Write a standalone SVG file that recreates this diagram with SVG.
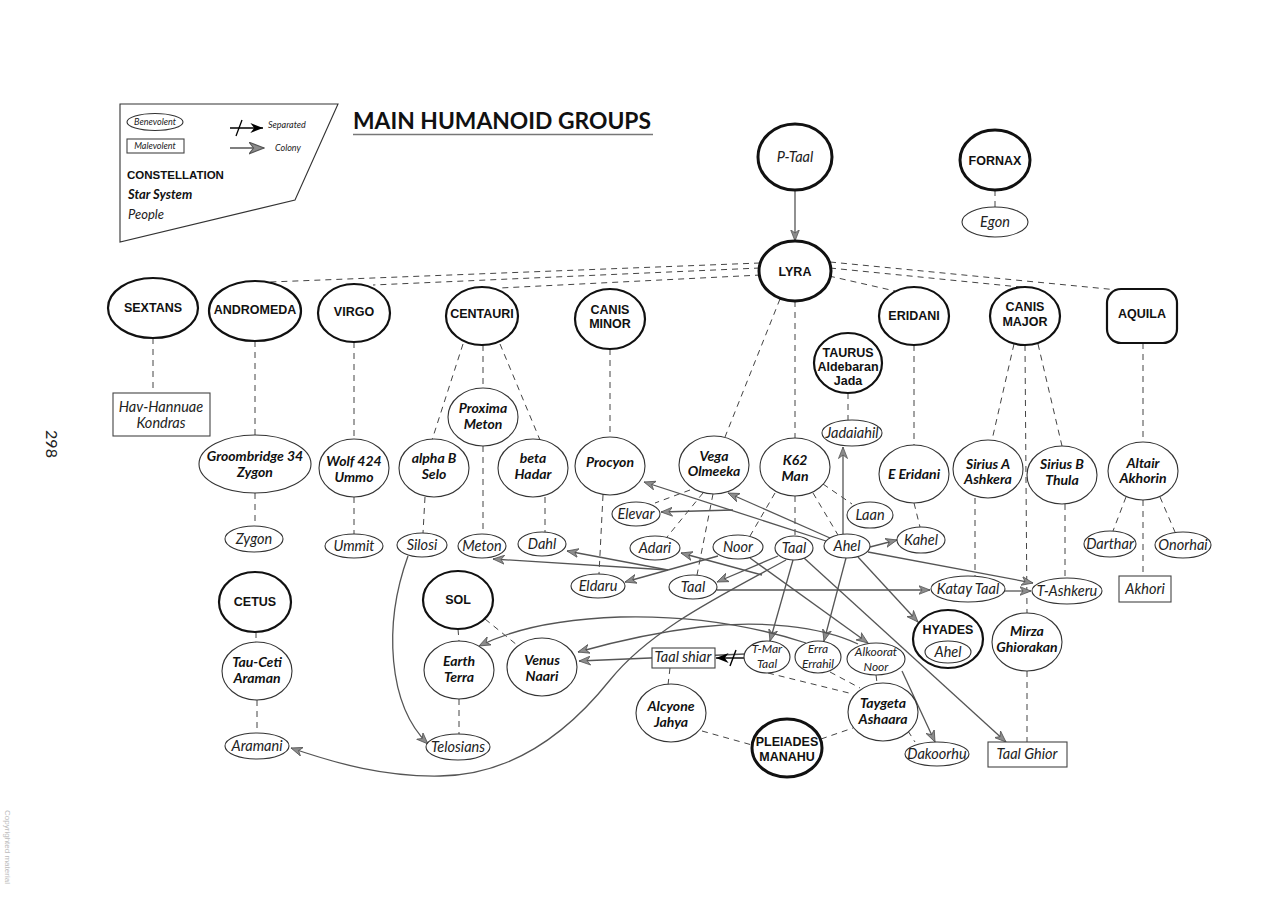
<svg xmlns="http://www.w3.org/2000/svg" width="1280" height="899" viewBox="0 0 1280 899">
<defs>
<style>
.bg{fill:#fff}
.c{fill:#fff;stroke:#111;stroke-width:2.2}
.ct{fill:#fff;stroke:#111;stroke-width:3}
.s{fill:#fff;stroke:#333;stroke-width:1.1}
.pn{fill:none;stroke:#333;stroke-width:1.1}
.r{fill:#fff;stroke:#444;stroke-width:1.1}
.d{fill:none;stroke:#444;stroke-width:1;stroke-dasharray:6 5}
.a{fill:none;stroke:#555;stroke-width:1.3;marker-end:url(#col)}
.tc{font-family:"Liberation Sans",Arial,sans-serif;font-weight:bold;font-size:12.5px;text-anchor:middle;fill:#111}
.ts{font-family:Lato,"Liberation Sans",sans-serif;font-weight:bold;font-style:italic;font-size:14px;text-anchor:middle;fill:#111}
.tp{font-family:Lato,"Liberation Sans",sans-serif;font-style:italic;font-size:14.5px;text-anchor:middle;fill:#222}
.tsm{font-family:Lato,"Liberation Sans",sans-serif;font-style:italic;font-size:12px;text-anchor:middle;fill:#222}
</style>
<marker id="col" viewBox="0 0 12 10" refX="11.5" refY="5" markerWidth="12" markerHeight="10" markerUnits="userSpaceOnUse" orient="auto">
<path d="M0,0.5 L11.5,5 L0,9.5 L3.5,5 z" fill="#8c8c8c" stroke="#555" stroke-width="0.8"/>
</marker>
<marker id="colL" viewBox="0 0 12 10" refX="11.5" refY="5" markerWidth="16" markerHeight="13" markerUnits="userSpaceOnUse" orient="auto">
<path d="M0,0.5 L11.5,5 L0,9.5 L3.5,5 z" fill="#8c8c8c" stroke="#555" stroke-width="0.8"/>
</marker>
<marker id="sep" viewBox="0 0 12 10" refX="11.5" refY="5" markerWidth="14" markerHeight="11" markerUnits="userSpaceOnUse" orient="auto">
<path d="M0,0.5 L11.5,5 L0,9.5 L3.5,5 z" fill="#000"/>
</marker>
</defs>
<rect class="bg" x="0" y="0" width="1280" height="899"/>

<g id="page">
<text x="46" y="444" transform="rotate(90 46 444)" font-family="Lato,'Liberation Sans',sans-serif" font-size="16" fill="#222" text-anchor="middle">298</text>
<text x="5" y="847" transform="rotate(90 5 847)" font-family="'Liberation Sans',sans-serif" font-size="8" fill="#bbb" text-anchor="middle">Copyrighted material</text>
</g>

<g id="legend">
<polygon points="120,104 338,104 295,200 120,242" fill="none" stroke="#333" stroke-width="1.1"/>
<ellipse cx="155" cy="122" rx="28" ry="8.5" class="pn"/>
<text x="155" y="125" font-family="Lato,'Liberation Sans',sans-serif" font-style="italic" font-size="9" fill="#222" text-anchor="middle">Benevolent</text>
<rect x="127" y="139" width="57" height="14" class="r"/>
<text x="155" y="149" font-family="Lato,'Liberation Sans',sans-serif" font-style="italic" font-size="9" fill="#222" text-anchor="middle">Malevolent</text>
<line x1="230" y1="128" x2="263" y2="128" stroke="#000" stroke-width="1.3" marker-end="url(#sep)"/>
<line x1="236" y1="136" x2="242" y2="120" stroke="#000" stroke-width="1.3"/>
<text x="268" y="128" font-family="Lato,'Liberation Sans',sans-serif" font-style="italic" font-size="9" fill="#222">Separated</text>
<line x1="230" y1="148" x2="264" y2="148" stroke="#555" stroke-width="1.3" marker-end="url(#colL)"/>
<text x="275" y="151" font-family="Lato,'Liberation Sans',sans-serif" font-style="italic" font-size="9" fill="#222">Colony</text>
<text x="127" y="179" font-family="'Liberation Sans',Arial,sans-serif" font-weight="bold" font-size="11.5" fill="#111">CONSTELLATION</text>
<text x="128" y="199" font-family="Lato,'Liberation Sans',sans-serif" font-weight="bold" font-style="italic" font-size="13" fill="#111">Star System</text>
<text x="128" y="219" font-family="Lato,'Liberation Sans',sans-serif" font-style="italic" font-size="13" fill="#222">People</text>
</g>

<g id="title">
<text x="353" y="129" font-family="Lato,'Liberation Sans',sans-serif" font-weight="bold" font-size="22" fill="#111" textLength="298" lengthAdjust="spacingAndGlyphs">MAIN HUMANOID GROUPS</text>
<line x1="353" y1="134.5" x2="653" y2="134.5" stroke="#777" stroke-width="1.3"/>
</g>

<g id="connectors">
<line class="d" x1="760" y1="263" x2="270" y2="282"/>
<line class="d" x1="760" y1="268" x2="373" y2="285"/>
<line class="d" x1="761" y1="275" x2="500" y2="288"/>
<line class="d" x1="830" y1="262" x2="1118" y2="290"/>
<line class="d" x1="830" y1="268" x2="1030" y2="288"/>
<line class="d" x1="829" y1="276" x2="895" y2="291"/>
<line class="d" x1="780" y1="299" x2="725" y2="437"/>
<line class="d" x1="795" y1="301" x2="795" y2="438"/>
<line class="d" x1="995" y1="190" x2="995" y2="207"/>
<line class="d" x1="848" y1="393" x2="848" y2="420"/>
<line class="d" x1="153" y1="338" x2="153" y2="393"/>
<line class="d" x1="255" y1="341" x2="255" y2="435"/>
<line class="d" x1="255" y1="493" x2="255" y2="526"/>
<line class="d" x1="354" y1="342" x2="354" y2="439"/>
<line class="d" x1="354" y1="497" x2="354" y2="534"/>
<line class="d" x1="425" y1="497" x2="423" y2="533"/>
<line class="d" x1="463" y1="344" x2="432" y2="440"/>
<line class="d" x1="483" y1="345" x2="483" y2="388"/>
<line class="d" x1="500" y1="344" x2="540" y2="440"/>
<line class="d" x1="483" y1="446" x2="483" y2="534"/>
<line class="d" x1="545" y1="497" x2="545" y2="532"/>
<line class="d" x1="610" y1="349" x2="610" y2="437"/>
<line class="d" x1="603" y1="495" x2="599" y2="574"/>
<line class="d" x1="690" y1="490" x2="655" y2="503"/>
<line class="d" x1="703" y1="493" x2="667" y2="537"/>
<line class="d" x1="713" y1="494" x2="697" y2="575"/>
<line class="d" x1="775" y1="493" x2="750" y2="536"/>
<line class="d" x1="795" y1="496" x2="795" y2="536"/>
<line class="d" x1="813" y1="493" x2="838" y2="535"/>
<line class="d" x1="823" y1="484" x2="852" y2="504"/>
<line class="d" x1="914" y1="345" x2="914" y2="445"/>
<line class="d" x1="914" y1="503" x2="920" y2="527"/>
<line class="d" x1="1014" y1="344" x2="992" y2="440"/>
<line class="d" x1="1025" y1="345" x2="1027" y2="613"/>
<line class="d" x1="1038" y1="344" x2="1062" y2="446"/>
<line class="d" x1="975" y1="498" x2="975" y2="576"/>
<line class="d" x1="1065" y1="504" x2="1065" y2="578"/>
<line class="d" x1="1027" y1="671" x2="1027" y2="742"/>
<line class="d" x1="1143" y1="343" x2="1143" y2="442"/>
<line class="d" x1="1126" y1="497" x2="1113" y2="531"/>
<line class="d" x1="1160" y1="497" x2="1175" y2="532"/>
<line class="d" x1="1143" y1="500" x2="1143" y2="576"/>
<line class="d" x1="256" y1="632" x2="256" y2="642"/>
<line class="d" x1="257" y1="700" x2="257" y2="733"/>
<line class="d" x1="458" y1="629" x2="459" y2="641"/>
<line class="d" x1="485" y1="619" x2="517" y2="645"/>
<line class="d" x1="459" y1="699" x2="459" y2="734"/>
<line class="d" x1="670" y1="668" x2="668" y2="685"/>
<line class="d" x1="768" y1="673" x2="853" y2="694"/>
<line class="d" x1="830" y1="672" x2="860" y2="688"/>
<line class="d" x1="876" y1="675" x2="877" y2="683"/>
<line class="d" x1="908" y1="731" x2="915" y2="742"/>
<line class="d" x1="702" y1="731" x2="752" y2="745"/>
<line class="d" x1="821" y1="739" x2="853" y2="728"/>
<line class="a" x1="795" y1="190" x2="795" y2="241"/>
<line class="a" x1="843" y1="534" x2="843" y2="447"/>
<line class="a" x1="826" y1="541" x2="644" y2="482"/>
<line class="a" x1="830" y1="538" x2="728" y2="493"/>
<line class="a" x1="733" y1="510" x2="661" y2="512"/>
<line class="a" x1="870" y1="547" x2="897" y2="540"/>
<line class="a" x1="868" y1="552" x2="1033" y2="583"/>
<line class="a" x1="858" y1="557" x2="918" y2="622"/>
<line class="a" x1="846" y1="558" x2="824" y2="641"/>
<line class="a" x1="778" y1="556" x2="717" y2="582"/>
<line class="a" x1="793" y1="560" x2="770" y2="641"/>
<line class="a" x1="804" y1="558" x2="1006" y2="742"/>
<path class="a" d="M786,560 C720,596 650,630 610,680 C570,730 515,775 440,776 C385,777 338,764 291,748"/>
<line class="a" x1="718" y1="556" x2="625" y2="582"/>
<line class="a" x1="750" y1="558" x2="868" y2="643"/>
<line class="a" x1="762" y1="575" x2="681" y2="553"/>
<line class="a" x1="668" y1="570" x2="493" y2="559"/>
<line class="a" x1="668" y1="570" x2="567" y2="551"/>
<line class="a" x1="717" y1="590" x2="930" y2="590"/>
<line class="a" x1="1005" y1="591" x2="1031" y2="591"/>
<line class="a" x1="902" y1="671" x2="935" y2="742"/>
<path class="a" d="M408,556 C383,625 388,705 428,744"/>
<path class="a" d="M806,643 C760,628 700,615 620,617 C560,619 515,628 479,646"/>
<path class="a" d="M858,644 C820,626 760,620 700,627 C650,633 610,643 578,652"/>
<line class="a" x1="745" y1="654" x2="579" y2="661"/>
<line x1="744" y1="658" x2="716" y2="658" stroke="#000" stroke-width="1.4" marker-end="url(#sep)"/>
<line x1="730" y1="666" x2="736" y2="650" stroke="#000" stroke-width="1.4"/>
</g>

<g id="n-ptaal"><ellipse cx="795" cy="157" rx="37" ry="33" class="ct"/><text x="795" y="162" class="tp">P-Taal</text></g>
<g id="n-fornax"><ellipse cx="995" cy="160" rx="35" ry="30" class="ct"/><text x="995" y="165" class="tc">FORNAX</text></g>
<g id="n-egon"><ellipse cx="995" cy="222" rx="33" ry="15" class="s"/><text x="995" y="227" class="tp">Egon</text></g>
<g id="n-lyra"><ellipse cx="795" cy="271" rx="36" ry="30" class="ct"/><text x="795" y="276" class="tc">LYRA</text></g>
<g id="n-sextans"><ellipse cx="153" cy="308" rx="45" ry="30" class="c"/><text x="153" y="312" class="tc">SEXTANS</text></g>
<g id="n-andromeda"><ellipse cx="255" cy="311" rx="46" ry="30" class="c"/><text x="255" y="314" class="tc">ANDROMEDA</text></g>
<g id="n-virgo"><ellipse cx="354" cy="313" rx="36" ry="29" class="c"/><text x="354" y="316" class="tc">VIRGO</text></g>
<g id="n-centauri"><ellipse cx="482" cy="316" rx="36" ry="29" class="c"/><text x="482" y="318" class="tc">CENTAURI</text></g>
<g id="n-canisminor"><ellipse cx="610" cy="319" rx="35" ry="30" class="c"/><text x="610" y="314" class="tc">CANIS</text><text x="610" y="328" class="tc">MINOR</text></g>
<g id="n-eridani"><ellipse cx="914" cy="316" rx="35" ry="29" class="c"/><text x="914" y="320" class="tc">ERIDANI</text></g>
<g id="n-canismajor"><ellipse cx="1025" cy="316" rx="35" ry="29" class="c"/><text x="1025" y="311" class="tc">CANIS</text><text x="1025" y="326" class="tc">MAJOR</text></g>
<g id="n-aquila"><rect x="1107" y="289" width="70" height="54" rx="14" class="c"/><text x="1142" y="318" class="tc">AQUILA</text></g>
<g id="n-taurus"><ellipse cx="848" cy="363" rx="34" ry="30" class="c"/><text x="848" y="357" class="tc">TAURUS</text><text x="848" y="371" class="tc">Aldebaran</text><text x="848" y="385" class="tc">Jada</text></g>
<g id="n-jadaiahil"><ellipse cx="852" cy="433" rx="30" ry="13" class="s"/><text x="852" y="438" class="tp" font-size="13">Jadaiahil</text></g>
<g id="n-havhannuae"><rect x="113" y="393" width="97" height="43" class="r"/><text x="161" y="412" class="tp">Hav-Hannuae</text><text x="161" y="428" class="tp">Kondras</text></g>
<g id="n-proxima"><ellipse cx="483" cy="417" rx="35" ry="29" class="s"/><text x="483" y="413" class="ts">Proxima</text><text x="483" y="429" class="ts">Meton</text></g>
<g id="n-groombridge"><ellipse cx="255" cy="464" rx="56" ry="29" class="s"/><text x="255" y="461" class="ts">Groombridge 34</text><text x="255" y="477" class="ts">Zygon</text></g>
<g id="n-wolf"><ellipse cx="354" cy="468" rx="35" ry="29" class="s"/><text x="354" y="466" class="ts">Wolf 424</text><text x="354" y="482" class="ts">Ummo</text></g>
<g id="n-alphab"><ellipse cx="434" cy="468" rx="35" ry="29" class="s"/><text x="434" y="463" class="ts">alpha B</text><text x="434" y="479" class="ts">Selo</text></g>
<g id="n-betahadar"><ellipse cx="533" cy="468" rx="35" ry="29" class="s"/><text x="533" y="463" class="ts">beta</text><text x="533" y="479" class="ts">Hadar</text></g>
<g id="n-procyon"><ellipse cx="610" cy="466" rx="35" ry="29" class="s"/><text x="610" y="467" class="ts">Procyon</text></g>
<g id="n-vega"><ellipse cx="714" cy="465" rx="35" ry="29" class="s"/><text x="714" y="461" class="ts">Vega</text><text x="714" y="476" class="ts">Olmeeka</text></g>
<g id="n-k62"><ellipse cx="795" cy="467" rx="35" ry="29" class="s"/><text x="795" y="465" class="ts">K62</text><text x="795" y="481" class="ts">Man</text></g>
<g id="n-eeridani"><ellipse cx="914" cy="474" rx="35" ry="29" class="s"/><text x="914" y="479" class="ts">E Eridani</text></g>
<g id="n-siriusa"><ellipse cx="988" cy="469" rx="35" ry="29" class="s"/><text x="988" y="469" class="ts">Sirius A</text><text x="988" y="484" class="ts">Ashkera</text></g>
<g id="n-siriusb"><ellipse cx="1062" cy="475" rx="35" ry="29" class="s"/><text x="1062" y="469" class="ts">Sirius B</text><text x="1062" y="485" class="ts">Thula</text></g>
<g id="n-altair"><ellipse cx="1143" cy="471" rx="35" ry="29" class="s"/><text x="1143" y="468" class="ts">Altair</text><text x="1143" y="483" class="ts">Akhorin</text></g>
<g id="n-laan"><ellipse cx="870" cy="515" rx="23" ry="13" class="s"/><text x="870" y="520" class="tp">Laan</text></g>
<g id="n-kahel"><ellipse cx="921" cy="540" rx="24" ry="13" class="s"/><text x="921" y="545" class="tp">Kahel</text></g>
<g id="n-elevar"><ellipse cx="636" cy="514" rx="24" ry="12" class="s"/><text x="636" y="519" class="tp">Elevar</text></g>
<g id="n-zygon"><ellipse cx="254" cy="539" rx="29" ry="13" class="s"/><text x="254" y="544" class="tp">Zygon</text></g>
<g id="n-ummit"><ellipse cx="354" cy="546" rx="29" ry="12" class="s"/><text x="354" y="551" class="tp">Ummit</text></g>
<g id="n-silosi"><ellipse cx="422" cy="545" rx="25" ry="12" class="s"/><text x="422" y="550" class="tp">Silosi</text></g>
<g id="n-meton"><ellipse cx="482" cy="546" rx="24" ry="12" class="s"/><text x="482" y="551" class="tp">Meton</text></g>
<g id="n-dahl"><ellipse cx="542" cy="544" rx="24" ry="12" class="s"/><text x="542" y="549" class="tp">Dahl</text></g>
<g id="n-adari"><ellipse cx="655" cy="548" rx="25" ry="12" class="s"/><text x="655" y="553" class="tp">Adari</text></g>
<g id="n-noor"><ellipse cx="738" cy="547" rx="25" ry="12" class="s"/><text x="738" y="552" class="tp">Noor</text></g>
<g id="n-taal1"><ellipse cx="794" cy="548" rx="19" ry="12" class="s"/><text x="794" y="553" class="tp">Taal</text></g>
<g id="n-ahel"><ellipse cx="847" cy="546" rx="23" ry="12" class="s"/><text x="847" y="551" class="tp">Ahel</text></g>
<g id="n-darthar"><ellipse cx="1110" cy="544" rx="26" ry="13" class="s"/><text x="1110" y="549" class="tp">Darthar</text></g>
<g id="n-onorhai"><ellipse cx="1183" cy="545" rx="28" ry="13" class="s"/><text x="1183" y="550" class="tp">Onorhai</text></g>
<g id="n-eldaru"><ellipse cx="598" cy="586" rx="27" ry="12" class="s"/><text x="598" y="591" class="tp">Eldaru</text></g>
<g id="n-taal2"><ellipse cx="693" cy="587" rx="24" ry="12" class="s"/><text x="693" y="592" class="tp">Taal</text></g>
<g id="n-kataytaal"><ellipse cx="968" cy="589" rx="37" ry="13" class="s"/><text x="968" y="594" class="tp">Katay Taal</text></g>
<g id="n-tashkeru"><ellipse cx="1067" cy="591" rx="35" ry="13" class="s"/><text x="1067" y="596" class="tp">T-Ashkeru</text></g>
<g id="n-akhori"><rect x="1119" y="576" width="52" height="26" class="r"/><text x="1145" y="594" class="tp">Akhori</text></g>
<g id="n-cetus"><ellipse cx="255" cy="602" rx="36" ry="30" class="c"/><text x="255" y="606" class="tc">CETUS</text></g>
<g id="n-sol"><ellipse cx="458" cy="600" rx="35" ry="29" class="c"/><text x="458" y="604" class="tc">SOL</text></g>
<g id="n-tauceti"><ellipse cx="257" cy="671" rx="35" ry="29" class="s"/><text x="257" y="667" class="ts">Tau-Ceti</text><text x="257" y="683" class="ts">Araman</text></g>
<g id="n-earth"><ellipse cx="459" cy="670" rx="35" ry="29" class="s"/><text x="459" y="666" class="ts">Earth</text><text x="459" y="682" class="ts">Terra</text></g>
<g id="n-venus"><ellipse cx="542" cy="667" rx="35" ry="29" class="s"/><text x="542" y="665" class="ts">Venus</text><text x="542" y="681" class="ts">Naari</text></g>
<g id="n-taalshiar"><rect x="652" y="648" width="63" height="20" class="r"/><text x="683" y="662" class="tp" font-size="13">Taal shiar</text></g>
<g id="n-tmartaal"><ellipse cx="767" cy="657" rx="23" ry="16" class="s"/><text x="767" y="653" class="tsm" font-size="13">T-Mar</text><text x="767" y="668" class="tsm" font-size="13">Taal</text></g>
<g id="n-erra"><ellipse cx="818" cy="657" rx="23" ry="16" class="s"/><text x="818" y="653" class="tsm" font-size="13">Erra</text><text x="818" y="668" class="tsm" font-size="13">Errahil</text></g>
<g id="n-alkoorat"><ellipse cx="876" cy="659" rx="29" ry="16" class="s"/><text x="876" y="656" class="tsm">Alkoorat</text><text x="876" y="671" class="tsm">Noor</text></g>
<g id="n-hyades"><ellipse cx="948" cy="639" rx="35" ry="29" class="c"/><text x="948" y="634" class="tc">HYADES</text><ellipse cx="948" cy="652" rx="23" ry="11" class="s"/><text x="948" y="657" class="tp">Ahel</text></g>
<g id="n-mirza"><ellipse cx="1027" cy="642" rx="35" ry="29" class="s"/><text x="1027" y="636" class="ts">Mirza</text><text x="1027" y="652" class="ts">Ghiorakan</text></g>
<g id="n-alcyone"><ellipse cx="671" cy="713" rx="35" ry="29" class="s"/><text x="671" y="711" class="ts">Alcyone</text><text x="671" y="727" class="ts">Jahya</text></g>
<g id="n-taygeta"><ellipse cx="883" cy="712" rx="35" ry="29" class="s"/><text x="883" y="708" class="ts">Taygeta</text><text x="883" y="724" class="ts">Ashaara</text></g>
<g id="n-pleiades"><ellipse cx="787" cy="748" rx="35" ry="29" class="ct"/><text x="787" y="746" class="tc">PLEIADES</text><text x="787" y="761" class="tc">MANAHU</text></g>
<g id="n-dakoorhu"><ellipse cx="937" cy="754" rx="32" ry="12" class="s"/><text x="937" y="759" class="tp">Dakoorhu</text></g>
<g id="n-taalghior"><rect x="988" y="742" width="79" height="25" class="r"/><text x="1027" y="759" class="tp">Taal Ghior</text></g>
<g id="n-aramani"><ellipse cx="257" cy="746" rx="32" ry="13" class="s"/><text x="257" y="751" class="tp">Aramani</text></g>
<g id="n-telosians"><ellipse cx="458" cy="747" rx="32" ry="13" class="s"/><text x="458" y="752" class="tp">Telosians</text></g>
</svg>
